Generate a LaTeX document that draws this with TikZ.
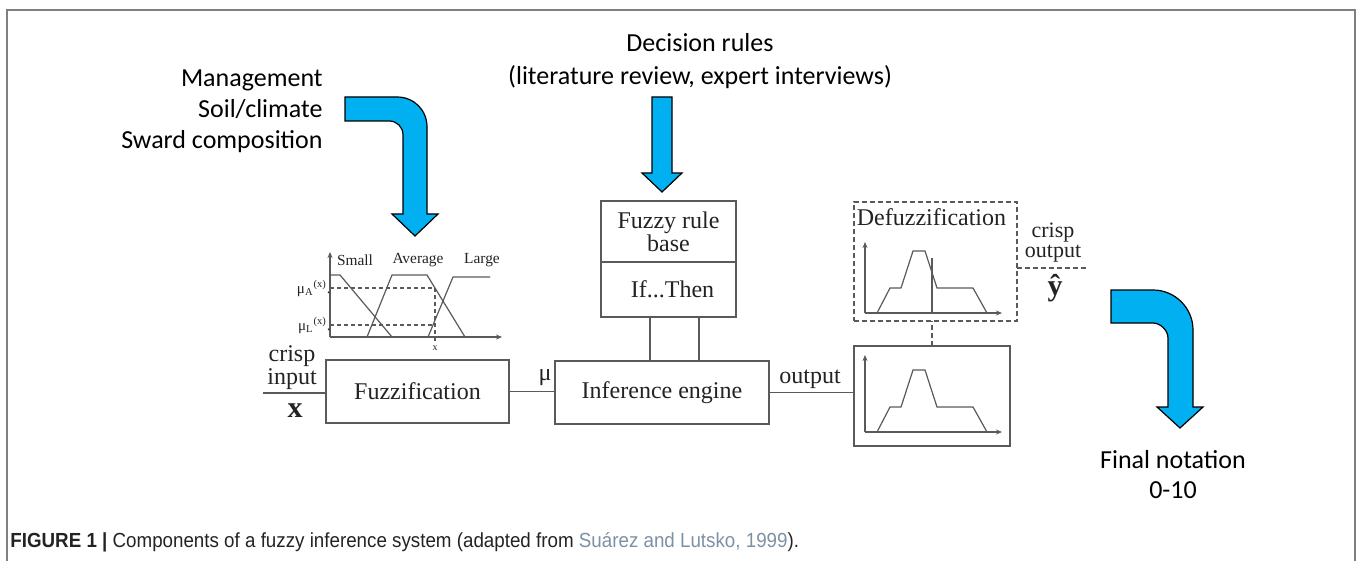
\documentclass[tikz,border=0pt]{standalone}
\usepackage{fontspec}
\usepackage{amsmath}
\setmainfont{Liberation Serif}
\newfontfamily\calibri{Carlito}
\newfontfamily\capfont[FakeStretch=0.92]{Liberation Sans}
\usetikzlibrary{arrows.meta,positioning}

\definecolor{arrowblue}{RGB}{0,176,240}
\definecolor{fzline}{RGB}{90,90,90}
\definecolor{fztext}{RGB}{35,35,35}
\definecolor{framegray}{RGB}{128,128,128}
\definecolor{linkgray}{RGB}{125,145,165}

\tikzset{
  fzbox/.style={draw=fzline,line width=0.7pt,text=fztext,inner sep=0pt,outer sep=0pt,
                font=\fontsize{12}{14}\selectfont},
  fz/.style={draw=fzline,line width=0.6pt},
  fzlabel/.style={text=fztext,inner sep=0pt,font=\fontsize{12}{14}\selectfont},
  setlabel/.style={text=fztext,inner sep=0pt,font=\fontsize{7.7}{9}\selectfont},
  bigarrow/.style={fill=arrowblue,draw=black,line width=0.6pt,line join=miter},
  note/.style={font=\calibri\fontsize{13}{15.5}\selectfont,text=black,inner sep=0pt},
}

\begin{document}
\begin{tikzpicture}[x=0.5pt,y=-0.5pt,>={Stealth[length=3pt,width=2.5pt]}]
\useasboundingbox (0,0) rectangle (1358,561);
\draw[framegray,line width=1pt] (7,561) -- (7,10) -- (1355,10) -- (1355,561);

% blocks of the inference system
\node[fzbox,minimum width=91.5pt,minimum height=31.5pt] (fuzz) at (417.5,391.5) {Fuzzification};
\node[fzbox,minimum width=107pt,minimum height=31.5pt] (inf) at (662,392.5) {Inference engine};
\node[fzbox,minimum width=67.5pt,minimum height=30.5pt,align=center,
      font=\fontsize{12}{11.5}\selectfont] (rule) at (668.5,231.5) {Fuzzy rule\\base};
\node[fzbox,minimum width=67.5pt,minimum height=27.5pt,below=0pt of rule] (ifthen) {\hspace{4pt}If...Then};
\node[fzbox,dash pattern=on 2.5pt off 1.5pt,minimum width=81.5pt,minimum height=59.5pt] (defz) at (935.5,261.5) {};
\node[fzlabel,below=3pt of defz.north,xshift=-2pt] (defzlabel) {Defuzzification};
\node[fzbox,minimum width=78pt,minimum height=50pt] (outbox) at (932,396) {};

% labels on the signal path
\node[fzlabel,align=center,font=\fontsize{12}{9.5}\selectfont] (crispin) at (292,368) {crisp\\input};
\node[fzlabel,font=\bfseries\fontsize{15}{15}\selectfont] (xin) at (295,411) {x};
\node[fzlabel] (mulab) at (545,378) {μ};
\node[fzlabel] (outlab) at (810,379) {output};
\node[fzlabel,align=center,font=\fontsize{11}{10}\selectfont] (crispout) at (1053,243) {crisp\\output};
\node[fzlabel,font=\bfseries\fontsize{15}{15}\selectfont] (yhat) at (1055,288) {ŷ};

% connectors
\coordinate (inleft) at (263,393);
\coordinate (yout) at (1088,268);
\draw[fz] (inleft) -- (inleft -| fuzz.west);
\draw[fz] (fuzz.east) -- (fuzz.east -| inf.west);
\draw[fz] (inf.east) -- (inf.east -| outbox.west);
\foreach \lx in {650,699}
  \draw[fz] (\lx,0 |- ifthen.south) -- (\lx,0 |- inf.north);
\draw[fz,dash pattern=on 2.5pt off 1.5pt] (outbox.north) -- (outbox.north |- defz.south);
\draw[fz,dash pattern=on 2.5pt off 1.5pt] (yout -| defz.east) -- (yout);

% membership functions
\draw[fz,->] (330,337) -- (330,252);
\draw[fz,->] (330,337) -- (502,337);
\draw[fz] (330,275) -- (340,275) -- (392,337);
\draw[fz] (367,337) -- (392,275) -- (427,275) -- (465,337);
\draw[fz] (428,337) -- (453,277) -- (490,277);
\draw[fz,dash pattern=on 2pt off 1.5pt] (330,288) -- (435,288) -- (435,342);
\draw[fz,dash pattern=on 2pt off 1.5pt] (330,325) -- (435,325);
\node[setlabel] (small) at (355,260) {Small};
\node[setlabel] (average) at (418,260) {Average};
\node[setlabel] (large) at (482,260) {Large};
\node[setlabel,anchor=east,font=\fontsize{7.5}{8}\selectfont] (muA) at (331,288) {μ$_{\text{A}}{}^{\text{(x)}}$.};
\node[setlabel,anchor=east,font=\fontsize{7.5}{8}\selectfont] (muL) at (331,325) {μ$_{\text{L}}{}^{\text{(x)}}$.};
\node[setlabel,font=\fontsize{5}{6}\selectfont] (xval) at (435,348) {x};

% aggregated output sets
\foreach \by/\ay in {313/242,432/355}{
  \draw[fz,->] (865,\by) -- (865,\ay);
  \draw[fz,->] (865,\by) -- (1002,\by);
  \draw[fz] (877,\by) -- (890,\by-25) -- (901,\by-25) -- (913,\by-62) -- (925,\by-62)
            -- (937,\by-25) -- (973,\by-25) -- (987,\by);
}
\draw[fz] (932,258) -- (932,313);

% inputs to the system
\node[note,align=right,anchor=east] (inputs) at (323,111) {Management\\Soil/climate\\Sward composition};
\node[note,align=center,font=\calibri\fontsize{13}{16.5}\selectfont] (rules) at (700,61) {Decision rules\\(literature review, expert interviews)};
\node[note,align=center,font=\calibri\fontsize{13}{15}\selectfont] (final) at (1173,475) {Final notation\\0-10};

\draw[bigarrow] (345,97) -- (397,97) .. controls (414,97) and (427,110) .. (427,127)
  -- (427,214) -- (438,214) -- (415,236) -- (392,214) -- (403,214) -- (403,135)
  .. controls (403,127) and (397,121) .. (389,121) -- (345,121) -- cycle;
\draw[bigarrow] (652,97) -- (672,97) -- (672,173) -- (682,173) -- (662,192)
  -- (642,173) -- (652,173) -- cycle;
\draw[bigarrow] (1111,290) -- (1153,290) .. controls (1175,290) and (1193,308) .. (1193,330)
  -- (1193,407) -- (1203,407) -- (1180,428) -- (1157,407) -- (1168,407) -- (1168,338)
  .. controls (1168,329.7) and (1159.7,323) .. (1153,323) -- (1111,323) -- cycle;

\node[anchor=base west,inner sep=0pt,text=fztext,font=\capfont\fontsize{10.2}{12}\selectfont] (caption) at (10,547)
  {\textbf{FIGURE 1 |} Components of a fuzzy inference system (adapted from \textcolor{linkgray}{Suárez and Lutsko, 1999}).};
\end{tikzpicture}
\end{document}
